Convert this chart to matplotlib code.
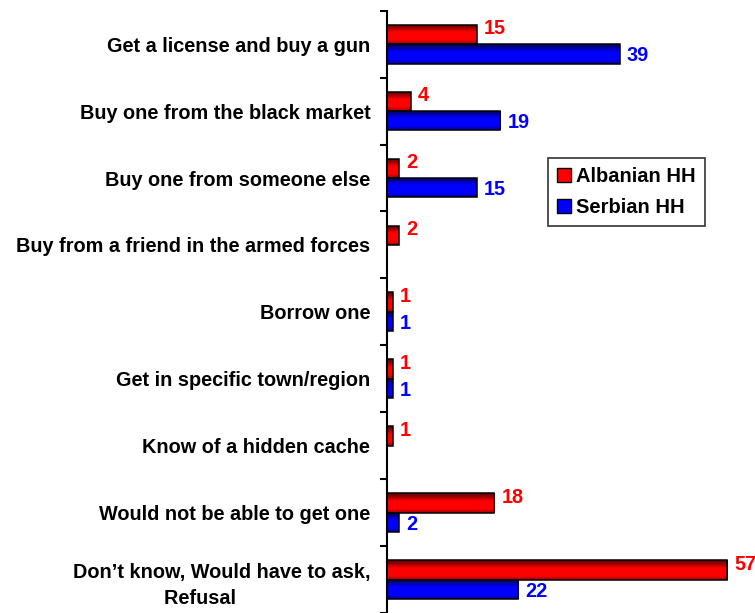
import numpy as np
import matplotlib
matplotlib.use("Agg")
import matplotlib.pyplot as plt
from matplotlib.patches import Patch

plt.rcParams['font.family'] = ['Liberation Sans', 'DejaVu Sans']
plt.rcParams['font.weight'] = 'bold'

categories = [
    "Get a license and buy a gun",
    "Buy one from the black market",
    "Buy one from someone else",
    "Buy from a friend in the armed forces",
    "Borrow one",
    "Get in specific town/region",
    "Know of a hidden cache",
    "Would not be able to get one",
    "Don\u2019t know, Would have to ask,\nRefusal        ",
]
albanian = [15, 4, 2, 2, 1, 1, 1, 18, 57]
serbian = [39, 19, 15, None, 1, 1, None, 2, 22]
series_names = ["Albanian HH", "Serbian HH"]

RED = "#FF0000"
BLUE = "#0000FF"
FS = 14.3

fig = plt.figure(figsize=(7.55, 6.13), dpi=100)
ax = fig.add_axes([387 / 755, 0.0, 1 - 387 / 755, 1 - 10.7 / 613])

n = len(categories)
y = np.arange(n)
h = 0.29
off = 0.145

def gradient_bars(bars, base_rgb):
    t = np.linspace(0, 1, 64)
    prof = np.interp(t, [0.0, 0.15, 0.4, 0.8, 1.0], [0.35, 0.55, 1.0, 1.0, 0.6])
    img = np.zeros((64, 1, 3))
    for k in range(3):
        img[:, 0, k] = base_rgb[k] * prof
    for p in bars:
        if p.get_width() <= 0:
            continue
        x0, y0 = p.get_x(), p.get_y()
        w, hh = p.get_width(), p.get_height()
        im = ax.imshow(img, extent=(x0, x0 + w, y0 + hh, y0), origin='upper',
                       aspect='auto', interpolation='bilinear', zorder=2)
        im.set_clip_path(p)

alb_vals = [v if v is not None else 0 for v in albanian]
ser_vals = [v if v is not None else 0 for v in serbian]

b1 = ax.barh(y - off, alb_vals, height=h, color=RED, edgecolor='black', linewidth=1.1, zorder=3)
b2 = ax.barh(y + off, ser_vals, height=h, color=BLUE, edgecolor='black', linewidth=1.1, zorder=3)
for p in list(b1) + list(b2):
    p.set_facecolor('none')
gradient_bars(b1, (1, 0, 0))
gradient_bars(b2, (0, 0, 1))
for p in b2:
    if p.get_width() <= 0:
        p.set_visible(False)

for i, v in enumerate(albanian):
    if v is not None:
        ax.annotate(str(v), (v, i - off), xytext=(5, 4), textcoords='offset points',
                    ha='left', va='center', color=RED, fontsize=FS, fontweight='bold')
for i, v in enumerate(serbian):
    if v is not None:
        ax.annotate(str(v), (v, i + off), xytext=(5, -1.5), textcoords='offset points',
                    ha='left', va='center', color=BLUE, fontsize=FS, fontweight='bold')

ax.set_xlim(0, (755 - 387) / 5.97)
ax.set_ylim(n - 0.5, -0.5)

for s in ['top', 'right', 'bottom']:
    ax.spines[s].set_visible(False)
ax.spines['left'].set_linewidth(1.5)
ax.set_xticks([])

ax.set_yticks(np.arange(n + 1) - 0.5)
ax.set_yticklabels([])
ax.tick_params(axis='y', which='major', length=5, width=1.5, direction='out')
ax.set_yticks(y, minor=True)
ax.set_yticklabels(categories, minor=True, fontsize=FS, fontweight='bold')
ax.tick_params(axis='y', which='minor', length=0, pad=12)
for lbl in ax.get_yticklabels(minor=True):
    lbl.set_multialignment('center')
    lbl.set_linespacing(1.5)

handles = [Patch(facecolor=RED, edgecolor='black', linewidth=1.0),
           Patch(facecolor=BLUE, edgecolor='black', linewidth=1.0)]
leg = fig.legend(handles, series_names, loc='upper left',
                 bbox_to_anchor=(548 / 755, 1 - 158 / 613),
                 prop={'size': 14.5, 'weight': 'bold'}, frameon=True, fancybox=False,
                 handlelength=0.7, handleheight=0.7, handletextpad=0.25,
                 borderpad=0.45, labelspacing=0.6, borderaxespad=0)
leg.get_frame().set_edgecolor('black')
leg.get_frame().set_linewidth(1.2)

fig.savefig("out.png", dpi=100)
